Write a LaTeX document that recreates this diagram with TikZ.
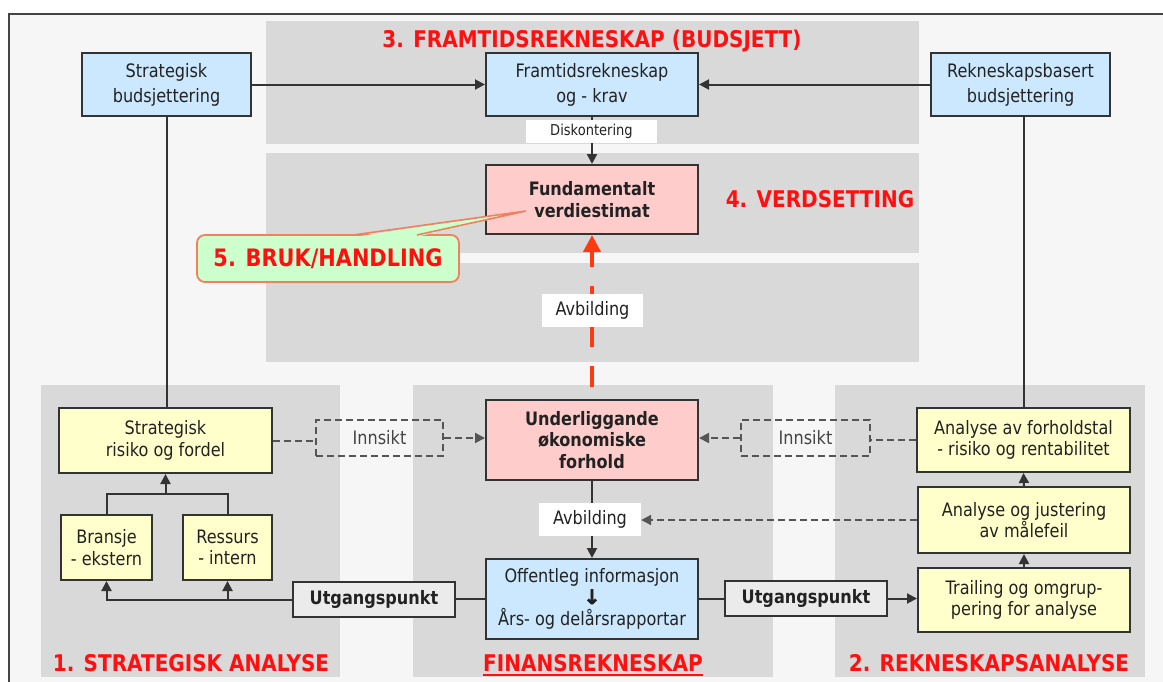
\documentclass[tikz,border=0pt]{standalone}
\usepackage{fontspec}
\setmainfont{DejaVu Sans}[FakeStretch=0.87]
\newfontfamily\heavyarrowfont{DejaVu Sans Bold}[FakeBold=3]
\usetikzlibrary{arrows.meta}
\definecolor{bgc}{HTML}{F6F6F6}
\definecolor{panel}{HTML}{D9D9D9}
\definecolor{boxblue}{HTML}{CCE8FF}
\definecolor{boxpink}{HTML}{FFCCCC}
\definecolor{boxyel}{HTML}{FFFFCC}
\definecolor{boxgreen}{HTML}{CCFFCC}
\definecolor{bdr}{HTML}{333333}
\definecolor{txt}{HTML}{222222}
\definecolor{titlered}{HTML}{FF1010}
\definecolor{arrred}{HTML}{FF3A10}
\definecolor{callbdr}{HTML}{F08060}
\definecolor{dashgray}{HTML}{555555}
\definecolor{utfill}{HTML}{EBEBEB}
\definecolor{framec}{HTML}{444444}
\begin{document}
\begin{tikzpicture}[x=1pt,y=-1pt,
  box/.style={draw=bdr,line width=2pt,inner sep=0pt,align=center,text=txt,
    font=\fontsize{18.5}{21.5}\selectfont},
  topbox/.style={box,fill=boxblue,font=\fontsize{18.5}{25}\selectfont},
  bluebox/.style={box,fill=boxblue},
  pinkbox/.style={box,fill=boxpink,font=\fontsize{18.5}{21.5}\selectfont\bfseries},
  yelbox/.style={box,fill=boxyel},
  utbox/.style={box,fill=utfill,font=\fontsize{18.5}{21.5}\selectfont\bfseries},
  insbox/.style={draw=dashgray,line width=2pt,dash pattern=on 7pt off 4pt,inner sep=0pt,
    text=dashgray!80!black,font=\fontsize{18.5}{21.5}\selectfont},
  lbl/.style={fill=white,inner sep=0pt,text=txt,font=\fontsize{18.5}{21.5}\selectfont},
  ttl/.style={text=titlered,inner sep=0pt,font=\fontsize{23}{26}\selectfont\bfseries},
  ln/.style={draw=bdr,line width=2pt},
  arr/.style={ln,-{Triangle[length=10pt,width=10pt]}},
  dln/.style={draw=dashgray,line width=2pt,dash pattern=on 7pt off 4pt},
  darr/.style={dln,-{Triangle[length=10pt,width=10pt]}}
]
\useasboundingbox (0,0) rectangle (1163,681);
\clip (0,0) rectangle (1163,681);
\fill[white] (0,0) rectangle (1163,681);
\filldraw[fill=bgc,draw=framec,line width=1.8pt] (9,14) rectangle (1175,695);

% panels
\fill[panel] (266,21) rectangle (919,144);
\fill[panel] (266,153) rectangle (919,253);
\fill[panel] (266,263) rectangle (919,362);
\fill[panel] (41,385) rectangle (340,677);
\fill[panel] (413,385) rectangle (773,677);
\fill[panel] (835,385) rectangle (1145,677);

% titles
\node[ttl,anchor=base] (t3) at (592,47) {3. FRAMTIDSREKNESKAP (BUDSJETT)};
\node[ttl,anchor=base] (t4) at (820,207) {4. VERDSETTING};
\node[ttl,anchor=base] (t1) at (191,671) {1. STRATEGISK ANALYSE};
\node[ttl,anchor=base] (tf) at (593,671) {FINANSREKNESKAP};
\node[ttl,anchor=base] (t2) at (989,671) {2. REKNESKAPSANALYSE};
\draw[titlered,line width=2.2pt] ([yshift=-4pt]tf.base west) -- ([yshift=-4pt]tf.base east);

% top nodes
\node[topbox,minimum width=169pt,minimum height=63pt] (sb) at (166.5,84.5) {Strategisk\\budsjettering};
\node[topbox,minimum width=212pt,minimum height=63pt] (fk) at (592,84.5) {Framtidsrekneskap\\og - krav};
\node[topbox,minimum width=179pt,minimum height=63pt] (rb) at (1020.5,84.5) {Rekneskapsbasert\\budsjettering};
\node[lbl,minimum width=131pt,minimum height=23pt,font=\fontsize{15}{18}\selectfont] (disk) at (591.5,131.5) {Diskontering};
\node[pinkbox,minimum width=212pt,minimum height=69pt] (fv) at (592,199.5) {Fundamentalt\\verdiestimat};

% middle
\node[pinkbox,minimum width=212pt,minimum height=80pt] (uo) at (592,440) {Underliggande\\økonomiske\\forhold};
\node[lbl,minimum width=102pt,minimum height=33pt] (avb2) at (590,519.5) {Avbilding};
\node[bluebox,minimum width=212pt,minimum height=80pt] (oi) at (592,599) {Offentleg informasjon\\{\heavyarrowfont\fontsize{20}{21.5}\selectfont ↓}\\Års- og delårsrapportar};

% left
\node[yelbox,minimum width=213pt,minimum height=65pt] (sr) at (165.5,440.5) {Strategisk\\risiko og fordel};
\node[yelbox,minimum width=91pt,minimum height=65pt] (br) at (106.5,547.5) {Bransje\\- ekstern};
\node[yelbox,minimum width=89pt,minimum height=65pt] (re) at (227.5,547.5) {Ressurs\\- intern};
\node[utbox,minimum width=162pt,minimum height=35pt] (ut1) at (374,599.5) {Utgangspunkt};
\node[insbox,minimum width=127pt,minimum height=36pt] (in1) at (379.5,438) {Innsikt};

% right
\node[yelbox,minimum width=213pt,minimum height=64pt] (af) at (1023.5,440) {Analyse av forholdstal\\- risiko og rentabilitet};
\node[yelbox,minimum width=212pt,minimum height=66pt] (aj) at (1024,520) {Analyse og justering\\av målefeil};
\node[yelbox,minimum width=212pt,minimum height=64pt] (tr) at (1024,600) {Trailing og omgrup-\\pering for analyse};
\node[utbox,minimum width=162pt,minimum height=35pt] (ut2) at (806,598.5) {Utgangspunkt};
\node[insbox,minimum width=129pt,minimum height=36pt] (in2) at (805.5,438) {Innsikt};

% connectors top
\draw[arr] (sb.east) -- (sb.east -| fk.west);
\draw[arr] (rb.west) -- (rb.west -| fk.east);
\draw[ln] (fk.south) -- (fk.south |- disk.north);
\draw[arr] (fk.south |- disk.south) -- (fv.north);
\draw[ln] (sb.south) -- (sb.south |- sr.north);
\draw[ln] (af.north |- rb.south) -- (af.north);

% red dashed
\draw[draw=arrred,line width=4pt,dash pattern=on 21pt off 19pt,dash phase=28pt,
  -{Triangle[length=17pt,width=17pt]}] (uo.north) -- (fv.south);
\node[lbl,minimum width=101pt,minimum height=33pt] (avb1) at (592.5,310.5) {Avbilding};

% left tree
\coordinate (tj) at (165.5,494);
\draw[ln] (br.north) |- (tj) -| (re.north);
\draw[arr] (tj) -- (sr.south);
\draw[arr] (ut1.west) -| (br.south);
\draw[arr] (ut1.west -| re.south) -- (re.south);
\draw[ln] (oi.west) -- (oi.west -| ut1.east);

% right
\draw[ln] (oi.east) -- (oi.east -| ut2.west);
\draw[arr] (ut2.east) -- (ut2.east -| tr.west);
\draw[arr] (tr.north) -- (aj.south);
\draw[arr] (aj.north) -- (af.south);

% middle
\draw[ln] (uo.south) -- (uo.south |- avb2.north);
\draw[arr] (uo.south |- avb2.south) -- (oi.north);

% dashed
\draw[dln] (sr.east) -- (sr.east -| in1.west);
\draw[darr] (in1.east) -- (in1.east -| uo.west);
\draw[dln] (af.west) -- (af.west -| in2.east);
\draw[darr] (in2.west) -- (in2.west -| uo.east);
\draw[darr] (aj.west) -- (aj.west -| avb2.east);

% callout
\node[draw=callbdr,line width=1.8pt,fill=boxgreen,rounded corners=8pt,inner sep=0pt,
  minimum width=262pt,minimum height=47pt,text=titlered,
  font=\fontsize{24}{28}\selectfont\bfseries] (bruk) at (328,258.5) {5. BRUK/HANDLING};
\fill[boxgreen] (354,237) -- (526,211) -- (416,237) -- cycle;
\draw[callbdr,line width=1.6pt,line join=miter] (353,235) -- (526,211) -- (417,235);
\end{tikzpicture}
\end{document}
